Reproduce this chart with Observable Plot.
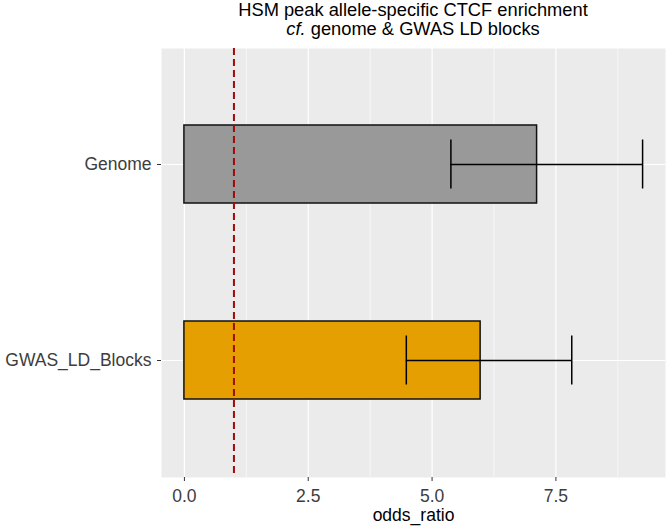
<!DOCTYPE html>
<html><head><meta charset="utf-8">
<script src="https://cdn.jsdelivr.net/npm/d3@7"></script>
<script src="https://cdn.jsdelivr.net/npm/@observablehq/plot@0.6"></script>
<style>
body{margin:0;background:#fff;font-family:"Liberation Sans",Arial,sans-serif;}
#title{position:relative;width:666px;height:48px;}
#title div{position:absolute;left:161px;width:504px;text-align:center;font-size:18.3px;line-height:18px;color:#000;white-space:nowrap;}
#chart svg{display:block;}
</style></head><body>
<div id="title"><div style="top:1px">HSM peak allele-specific CTCF enrichment</div><div style="top:20px"><i>cf.</i> genome &amp; GWAS LD blocks</div></div>
<div id="chart"></div>
<script>
const groups = ["Genome", "GWAS_LD_Blocks"];
const oddsRatio = [7.12, 5.98];
const ciLow = [5.38, 4.48];
const ciHigh = [9.25, 7.82];
const fills = ["#999999", "#E69F00"];
const xTicks = [0, 2.5, 5, 7.5];
const xMinor = [1.25, 3.75, 6.25, 8.75];
const refLine = [1];

const data = groups.map((g, i) => ({group: g, or: oddsRatio[i], lo: ciLow[i], hi: ciHigh[i]}));
const lo = 0, hi = d3.max(ciHigh);
const pad = (hi - lo) * 0.05;

const chart = Plot.plot({
  width: 666, height: 482,
  marginTop: 0, marginBottom: 53, marginLeft: 161, marginRight: 1,
  style: {fontFamily: "'Liberation Sans', Arial, sans-serif", background: "transparent"},
  x: {domain: [lo - pad, hi + pad]},
  y: {domain: groups, paddingInner: 0.602, paddingOuter: 0.395},
  color: {domain: groups, range: fills},
  marks: [
    Plot.frame({fill: "#ebebeb", stroke: null}),
    Plot.ruleX(xMinor, {stroke: "#fff", strokeWidth: 0.6}),
    Plot.ruleX(xTicks, {stroke: "#fff", strokeWidth: 1.2}),
    Plot.ruleY(groups, {y: d => d, stroke: "#fff", strokeWidth: 1.2}),
    Plot.barX(data, {x: "or", y: "group", fill: "group", stroke: "#111", strokeWidth: 1.5}),
    Plot.ruleY(data, {y: "group", x1: "lo", x2: "hi", stroke: "#000", strokeWidth: 1.5}),
    Plot.tickX(data, {x: "lo", y: "group", stroke: "#000", strokeWidth: 1.5, insetTop: 14.5, insetBottom: 14.5}),
    Plot.tickX(data, {x: "hi", y: "group", stroke: "#000", strokeWidth: 1.5, insetTop: 14.5, insetBottom: 14.5}),
    Plot.ruleX(refLine, {stroke: "#a00a0a", strokeWidth: 2, strokeDasharray: "7,4"}),
    Plot.axisX(xTicks, {tickFormat: d => d.toFixed(1), tickSize: 4, tickPadding: 8, fontSize: 17.5, fill: "#3d3d3d", stroke: "#333", label: null}),
    Plot.axisY({tickSize: 4, tickPadding: 6, fontSize: 17.5, fill: "#3d3d3d", stroke: "#333", label: null}),
    Plot.text(["odds_ratio"], {frameAnchor: "bottom", dy: 43, fontSize: 17.5, fill: "#000"})
  ]
});
document.getElementById("chart").appendChild(chart);
</script>
</body></html>
